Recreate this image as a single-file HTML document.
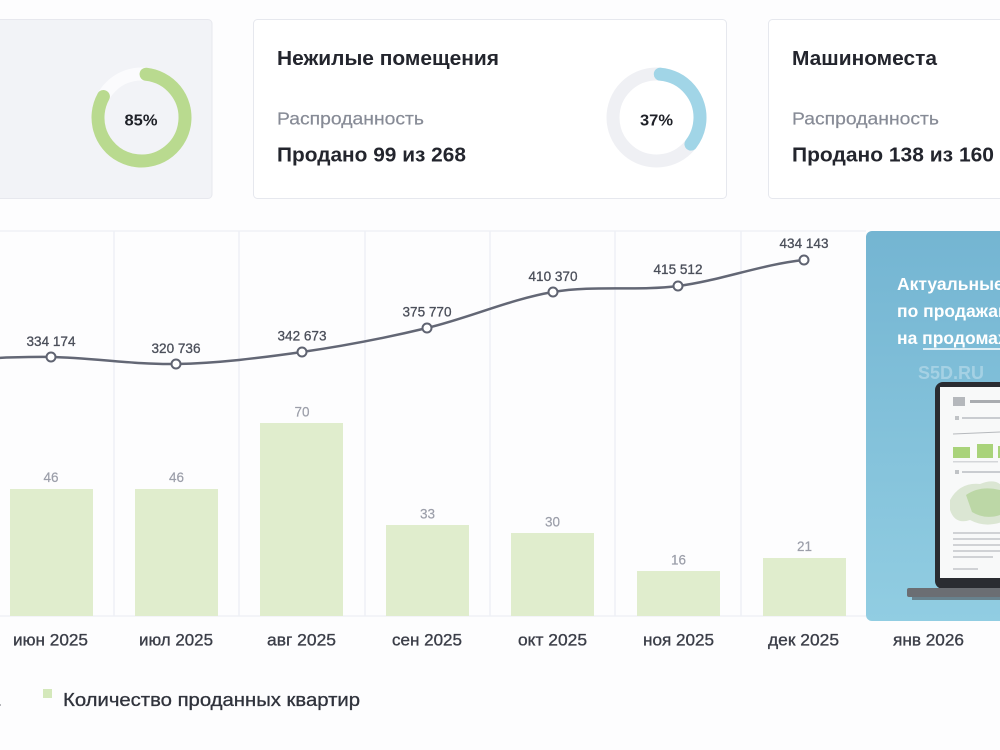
<!DOCTYPE html>
<html>
<head>
<meta charset="utf-8">
<style>
  html,body{margin:0;padding:0;background:#fdfdfe;}
  body{width:1000px;height:750px;overflow:hidden;position:relative;font-family:"Liberation Sans","Noto Sans CJK SC",sans-serif;}
  svg{position:absolute;left:0;top:0;}
  text{font-family:"Liberation Sans","Noto Sans CJK SC",sans-serif;}
</style>
</head>
<body>
<svg width="1000" height="750" viewBox="0 0 1000 750" xmlns="http://www.w3.org/2000/svg">
  <defs>
    <linearGradient id="adg" x1="0" y1="0" x2="0" y2="1">
      <stop offset="0" stop-color="#74b5d2"/>
      <stop offset="1" stop-color="#91cde2"/>
    </linearGradient>
    <clipPath id="adclip"><rect x="866" y="231" width="140" height="390" rx="6"/></clipPath>
  </defs>

  <rect x="0" y="0" width="1000" height="750" fill="#fdfdfe"/>

  <!-- Card 1 -->
  <rect x="-10" y="19.5" width="222" height="179" rx="4" fill="#f2f3f7" stroke="#e7e8ee" stroke-width="1"/>
  <circle cx="141.5" cy="117.5" r="43.5" fill="none" stroke="#fbfbfd" stroke-width="13"/>
  <circle cx="141.5" cy="117.5" r="43.5" fill="none" stroke="#b9da8f" stroke-width="13" stroke-linecap="round"
          stroke-dasharray="222 400" transform="rotate(-84 141.5 117.5)"/>
  <text x="141" y="125.5" font-size="16" font-weight="bold" fill="#1f2128" text-anchor="middle" textLength="33" lengthAdjust="spacingAndGlyphs">85%</text>

  <!-- Card 2 -->
  <rect x="253.5" y="19.5" width="473" height="179" rx="4" fill="#ffffff" stroke="#e6e8ee" stroke-width="1"/>
  <text x="277" y="65" font-size="20" font-weight="bold" fill="#23252d" textLength="222" lengthAdjust="spacingAndGlyphs">Нежилые помещения</text>
  <text x="277" y="124.5" font-size="17.5" fill="#878b96" stroke="#878b96" stroke-width="0.2" textLength="147" lengthAdjust="spacingAndGlyphs">Распроданность</text>
  <text x="277" y="161.5" font-size="20" font-weight="bold" fill="#23252d" textLength="189" lengthAdjust="spacingAndGlyphs">Продано 99 из 268</text>
  <circle cx="656.5" cy="117.5" r="43.5" fill="none" stroke="#eff0f4" stroke-width="13"/>
  <circle cx="656.5" cy="117.5" r="43.5" fill="none" stroke="#a1d5e7" stroke-width="13" stroke-linecap="round"
          stroke-dasharray="93 400" transform="rotate(-85 656.5 117.5)"/>
  <text x="656.5" y="125.5" font-size="16" font-weight="bold" fill="#1f2128" text-anchor="middle" textLength="33" lengthAdjust="spacingAndGlyphs">37%</text>

  <!-- Card 3 -->
  <rect x="768.5" y="19.5" width="250" height="179" rx="4" fill="#ffffff" stroke="#e6e8ee" stroke-width="1"/>
  <text x="792" y="65" font-size="20" font-weight="bold" fill="#23252d" textLength="145" lengthAdjust="spacingAndGlyphs">Машиноместа</text>
  <text x="792" y="124.5" font-size="17.5" fill="#878b96" stroke="#878b96" stroke-width="0.2" textLength="147" lengthAdjust="spacingAndGlyphs">Распроданность</text>
  <text x="792" y="161.5" font-size="20" font-weight="bold" fill="#23252d" textLength="202" lengthAdjust="spacingAndGlyphs">Продано 138 из 160</text>

  <!-- Chart grid -->
  <line x1="0" y1="231" x2="866" y2="231" stroke="#f0f1f5" stroke-width="1.5"/>
  <line x1="0" y1="616" x2="866" y2="616" stroke="#f0f1f5" stroke-width="1.5"/>
  <g stroke="#eef0f6" stroke-width="1.5">
    <line x1="114" y1="231" x2="114" y2="616"/>
    <line x1="239" y1="231" x2="239" y2="616"/>
    <line x1="365" y1="231" x2="365" y2="616"/>
    <line x1="490" y1="231" x2="490" y2="616"/>
    <line x1="615" y1="231" x2="615" y2="616"/>
    <line x1="741" y1="231" x2="741" y2="616"/>
  </g>

  <!-- Bars -->
  <g fill="#e0edcd">
    <rect x="10" y="489" width="83" height="127"/>
    <rect x="135" y="489" width="83" height="127"/>
    <rect x="260" y="423" width="83" height="193"/>
    <rect x="386" y="525" width="83" height="91"/>
    <rect x="511" y="533" width="83" height="83"/>
    <rect x="637" y="571" width="83" height="45"/>
    <rect x="763" y="558" width="83" height="58"/>
  </g>
  <g font-size="13.5" fill="#9b9ea9" stroke="#9b9ea9" stroke-width="0.2" text-anchor="middle">
    <text x="51" y="482">46</text>
    <text x="176.5" y="482">46</text>
    <text x="302" y="416.5">70</text>
    <text x="427.5" y="518.5">33</text>
    <text x="552.5" y="526.5">30</text>
    <text x="678.5" y="564.5">16</text>
    <text x="804.5" y="551">21</text>
  </g>

  <!-- Line -->
  <path d="M -74 360 C -32 360, 9 356.3, 51 357 C 92.7 357.7, 134.3 364.8, 176 364 C 217.7 363.2, 260 358, 302 352 C 343.7 346, 385.3 338, 427 328 C 469 318, 511 299, 553 292 C 594.7 285, 636.3 291.3, 678 286 C 719.7 280.7, 762 264.3, 804 260"
        fill="none" stroke="#636775" stroke-width="2.5"/>
  <g fill="#ffffff" stroke="#5f6371" stroke-width="2">
    <circle cx="51" cy="357" r="4.5"/>
    <circle cx="176" cy="364" r="4.5"/>
    <circle cx="302" cy="352" r="4.5"/>
    <circle cx="427" cy="328" r="4.5"/>
    <circle cx="553" cy="292" r="4.5"/>
    <circle cx="678" cy="286" r="4.5"/>
    <circle cx="804" cy="260" r="4.5"/>
  </g>
  <g font-size="14" fill="#4b4f5a" stroke="#4b4f5a" stroke-width="0.3" text-anchor="middle">
    <text x="51" y="346" textLength="49" lengthAdjust="spacingAndGlyphs">334 174</text>
    <text x="176" y="353" textLength="49" lengthAdjust="spacingAndGlyphs">320 736</text>
    <text x="302" y="340.5" textLength="49" lengthAdjust="spacingAndGlyphs">342 673</text>
    <text x="427" y="316.5" textLength="49" lengthAdjust="spacingAndGlyphs">375 770</text>
    <text x="553" y="281" textLength="49" lengthAdjust="spacingAndGlyphs">410 370</text>
    <text x="678" y="274" textLength="49" lengthAdjust="spacingAndGlyphs">415 512</text>
    <text x="804" y="248" textLength="49" lengthAdjust="spacingAndGlyphs">434 143</text>
  </g>

  <!-- X labels -->
  <g font-size="17" fill="#3b3e48" stroke="#3b3e48" stroke-width="0.35" text-anchor="middle">
    <text x="50.5" y="645.5" textLength="75" lengthAdjust="spacingAndGlyphs">июн 2025</text>
    <text x="176" y="645.5" textLength="74" lengthAdjust="spacingAndGlyphs">июл 2025</text>
    <text x="301.5" y="645.5" textLength="69" lengthAdjust="spacingAndGlyphs">авг 2025</text>
    <text x="427" y="645.5" textLength="70" lengthAdjust="spacingAndGlyphs">сен 2025</text>
    <text x="552.5" y="645.5" textLength="69" lengthAdjust="spacingAndGlyphs">окт 2025</text>
    <text x="678.5" y="645.5" textLength="71" lengthAdjust="spacingAndGlyphs">ноя 2025</text>
    <text x="803.5" y="645.5" textLength="71" lengthAdjust="spacingAndGlyphs">дек 2025</text>
    <text x="928.5" y="645.5" textLength="71" lengthAdjust="spacingAndGlyphs">янв 2026</text>
  </g>

  <!-- Legend -->
  <text x="-3" y="706" font-size="18" fill="#333640">.</text>
  <rect x="43" y="689" width="9" height="9" fill="#d4e8bb"/>
  <text x="63" y="706" font-size="18" fill="#30333c" stroke="#30333c" stroke-width="0.3" textLength="297" lengthAdjust="spacingAndGlyphs">Количество проданных квартир</text>

  <!-- Ad panel -->
  <rect x="866" y="231" width="140" height="390" rx="6" fill="url(#adg)"/>
  <g clip-path="url(#adclip)">
    <g font-size="17.5" font-weight="bold" fill="#ffffff">
      <text x="897" y="290">Актуальные данные</text>
      <text x="897" y="317">по продажам жилья</text>
      <text x="897" y="344">на продомах.рф</text>
    </g>
    <line x1="923" y1="349" x2="1010" y2="349" stroke="#ffffff" stroke-width="1.5"/>
    <text x="918" y="379" font-size="18" font-weight="bold" fill="#ffffff" fill-opacity="0.3">S5D.RU</text>
    <!-- laptop -->
    <rect x="935" y="382" width="90" height="207" rx="8" fill="#2a2c31"/>
    <rect x="940" y="387" width="80" height="191" fill="#f8f9f9"/>
    <rect x="953" y="397" width="12" height="9" fill="#b5b8bc"/>
    <rect x="970" y="400" width="30" height="3" fill="#a9acb0"/>
    <rect x="955" y="416" width="4" height="4" fill="#c0c3c6"/>
    <rect x="962" y="417" width="38" height="2" fill="#c9ccd0"/>
    <line x1="953" y1="434" x2="1000" y2="432" stroke="#b6b9bd" stroke-width="1"/>
    <rect x="953" y="447" width="17" height="11" fill="#a9d37a"/>
    <rect x="977" y="444" width="16" height="14" fill="#a9d37a"/>
    <rect x="998" y="446" width="6" height="12" fill="#a9d37a"/>
    <rect x="953" y="461" width="45" height="1.5" fill="#d4d6d9"/>
    <rect x="955" y="470" width="4" height="4" fill="#c0c3c6"/>
    <rect x="962" y="471" width="38" height="2" fill="#c9ccd0"/>
    <path d="M 950 500 Q 960 482 980 484 Q 995 478 1002 486 L 1002 522 Q 985 528 970 520 Q 955 525 950 510 Z" fill="#dbe6d3"/>
    <path d="M 966 495 Q 980 485 1000 490 L 1000 515 Q 985 520 972 512 Z" fill="#bcd7a6"/>
    <g fill="#d0d2d5">
      <rect x="953" y="532" width="47" height="2"/>
      <rect x="953" y="538" width="47" height="2"/>
      <rect x="953" y="544" width="47" height="2"/>
      <rect x="953" y="550" width="47" height="2"/>
      <rect x="953" y="556" width="40" height="2"/>
      <rect x="953" y="568" width="25" height="2"/>
    </g>
    <rect x="907" y="588" width="110" height="9" rx="2" fill="#6b6e73"/>
    <rect x="912" y="597" width="100" height="3" fill="#4f5256" fill-opacity="0.6"/>
  </g>
</svg>
</body>
</html>
